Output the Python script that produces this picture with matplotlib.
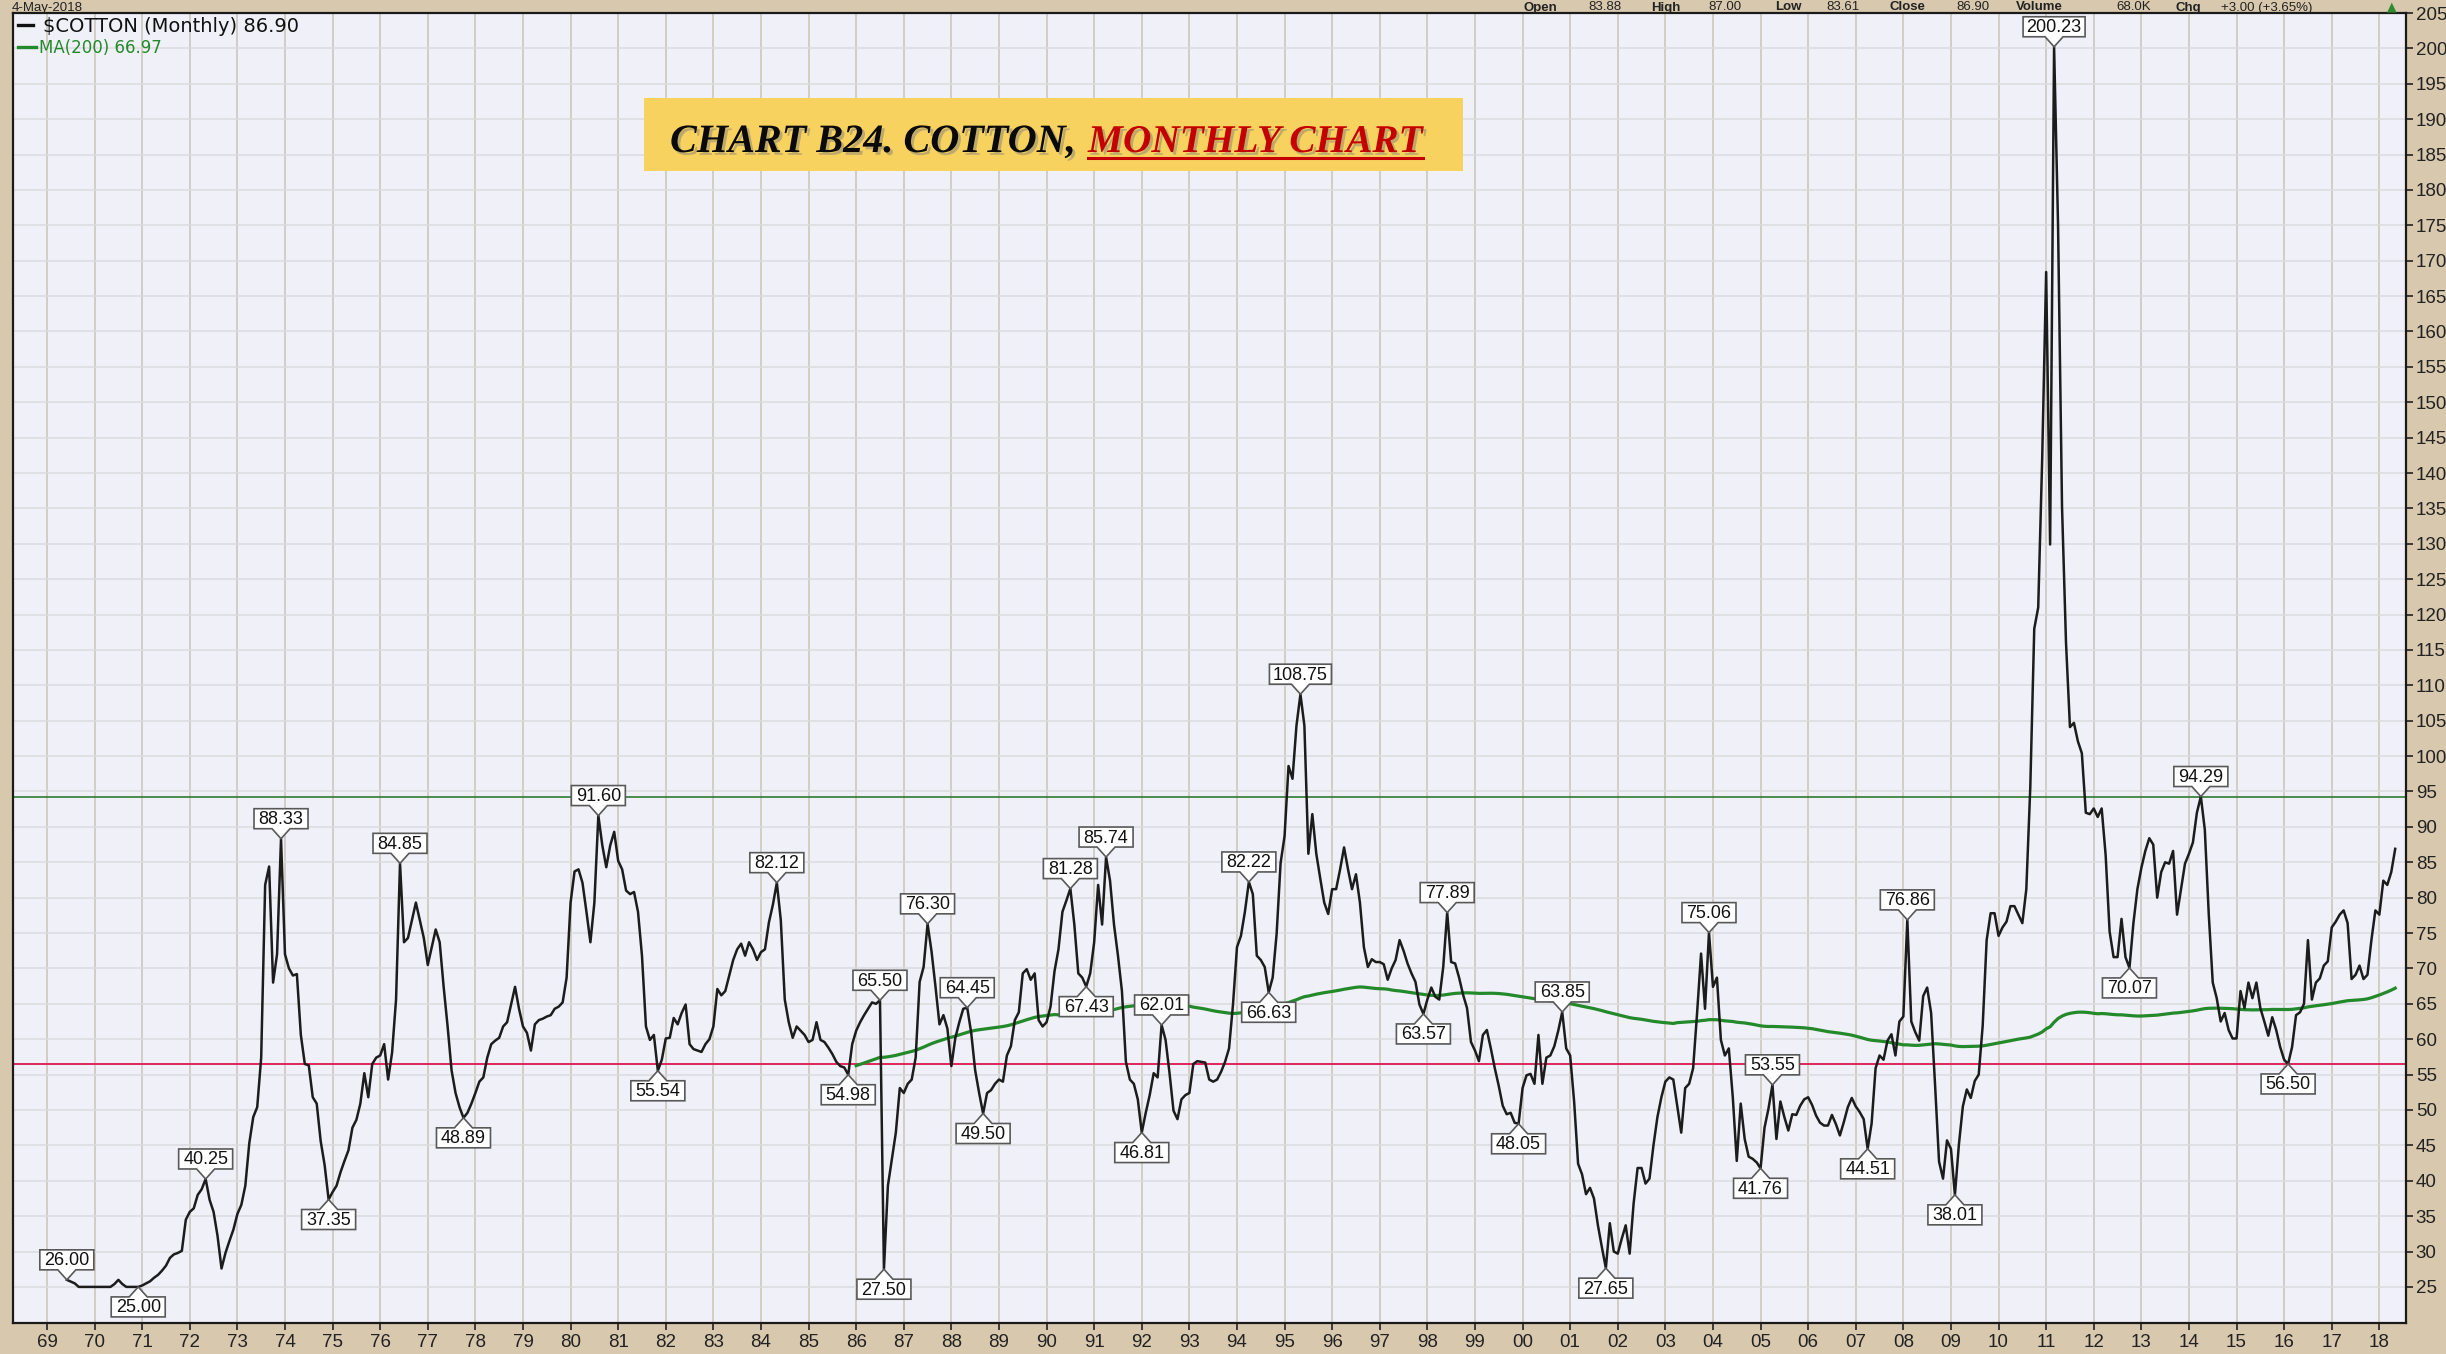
import numpy as np
import pandas as pd
import matplotlib
matplotlib.use("Agg")
import matplotlib.pyplot as plt
import matplotlib.patheffects as pe
from matplotlib import font_manager
from matplotlib.patches import Polygon, Rectangle
from matplotlib.lines import Line2D
from matplotlib.transforms import ScaledTranslation

# monthly closes of $COTTON, first bar June 1969
first_bar = "1969-06-01"

closes_1969_1979 = [
    26.00, 25.75, 25.50, 25.00, 25.00, 25.00, 25.00,
    25.00, 25.00, 25.00, 25.00, 25.00, 25.40, 26.00, 25.40, 25.00, 25.00, 25.00, 25.00,
    25.20, 25.50, 25.80, 26.30, 26.70, 27.30, 28.00, 29.10, 29.60, 29.80, 30.10, 34.50,
    35.60, 36.10, 38.00, 38.80, 40.25, 37.30, 35.60, 32.20, 27.60, 29.80, 31.50, 33.10,
    35.30, 36.60, 39.30, 45.30, 49.00, 50.40, 57.40, 81.80, 84.40, 68.00, 72.00, 88.33,
    72.00, 70.00, 69.00, 69.20, 60.60, 56.50, 56.30, 51.80, 50.90, 45.60, 42.20, 37.35,
    38.40, 39.30, 41.20, 42.80, 44.30, 47.50, 48.60, 50.90, 55.20, 51.80, 56.50, 57.40,
    57.70, 59.30, 54.30, 58.10, 65.60, 84.85, 73.70, 74.30, 76.80, 79.30, 76.80, 74.30,
    70.50, 73.00, 75.50, 73.70, 67.40, 61.80, 55.60, 52.40, 50.40, 48.89, 49.60, 50.90,
    52.40, 54.00, 54.60, 57.40, 59.30, 59.80, 60.20, 61.80, 62.40, 64.90, 67.40, 64.30,
    61.80, 60.90, 58.40, 62.10, 62.70, 62.90, 63.20, 63.40, 64.30, 64.60, 65.20, 68.70,
]
closes_1980_1989 = [
    79.30, 83.70, 84.00, 82.10, 78.00, 73.70, 79.30, 91.60, 87.40, 84.30, 87.40, 89.30,
    85.20, 84.00, 81.00, 80.50, 80.80, 78.00, 71.80, 61.80, 59.90, 60.60, 55.54, 57.10,
    60.10, 60.20, 63.00, 62.10, 63.70, 64.90, 59.30, 58.60, 58.40, 58.20, 59.30, 60.00,
    61.80, 67.10, 66.20, 66.80, 69.00, 71.20, 72.70, 73.50, 71.80, 73.70, 72.70, 71.20,
    72.30, 72.70, 76.50, 79.00, 82.12, 76.80, 65.60, 62.40, 60.20, 61.80, 61.20, 60.60,
    59.60, 59.90, 62.40, 59.90, 59.60, 58.80, 57.90, 56.80, 56.20, 56.00, 54.98, 59.30,
    61.20, 62.40, 63.40, 64.30, 65.20, 65.00, 65.50, 27.50, 39.30, 43.10, 46.80, 53.10,
    52.40, 53.70, 54.30, 57.40, 68.10, 70.20, 76.30, 72.40, 67.40, 62.10, 63.40, 61.50,
    56.20, 60.20, 62.40, 64.30, 64.45, 60.90, 55.60, 52.40, 49.50, 52.40, 52.80, 53.70,
    54.30, 54.00, 57.70, 59.00, 62.70, 63.80, 69.30, 69.90, 68.40, 69.30, 62.70, 61.80,
]
closes_1990_1999 = [
    62.40, 64.60, 69.60, 72.70, 78.00, 79.60, 81.28, 76.20, 69.30, 68.70, 67.43, 69.30,
    73.70, 81.80, 76.20, 85.74, 82.40, 76.20, 71.80, 66.80, 56.80, 54.30, 53.70, 51.50,
    46.81, 49.60, 52.10, 55.20, 54.60, 62.01, 59.90, 55.20, 49.90, 48.70, 51.50, 52.10,
    52.40, 56.50, 56.90, 56.80, 56.70, 54.30, 54.00, 54.30, 55.40, 56.80, 58.70, 64.90,
    73.00, 74.60, 78.00, 82.22, 80.50, 71.80, 71.20, 70.20, 66.63, 68.70, 74.90, 84.90,
    88.70, 98.60, 96.80, 104.30, 108.75, 104.30, 86.20, 91.80, 86.20, 82.70, 79.30, 77.70,
    81.20, 81.20, 84.00, 87.10, 84.00, 81.20, 83.30, 79.30, 73.00, 70.20, 71.30, 70.90,
    70.90, 70.60, 68.40, 70.00, 71.20, 74.00, 72.50, 70.70, 69.30, 68.10, 64.90, 63.57,
    65.60, 67.30, 66.00, 65.60, 70.20, 77.89, 70.90, 70.70, 68.70, 66.30, 64.40, 59.60,
    58.40, 56.90, 60.60, 61.30, 58.70, 55.90, 53.40, 50.60, 49.40, 49.60, 48.20, 48.05,
]
closes_2000_2009 = [
    53.10, 54.90, 55.10, 53.70, 60.60, 53.70, 57.40, 57.70, 59.00, 61.20, 63.85, 58.70,
    57.70, 51.20, 42.40, 40.90, 38.10, 39.00, 37.50, 33.70, 30.60, 27.65, 34.00, 30.00,
    29.70, 31.80, 33.70, 29.70, 36.80, 41.80, 41.80, 39.60, 40.30, 45.00, 49.00, 51.80,
    54.00, 54.60, 54.30, 50.60, 46.80, 53.10, 53.70, 55.90, 63.70, 72.10, 64.30, 75.06,
    67.40, 68.70, 59.90, 57.70, 58.70, 51.80, 42.80, 50.90, 45.90, 43.40, 43.10, 42.60,
    41.76, 47.50, 50.20, 53.55, 45.90, 51.20, 49.00, 47.10, 49.40, 49.30, 50.60, 51.50,
    51.80, 50.70, 49.20, 48.20, 47.80, 47.80, 49.30, 48.00, 46.40, 48.30, 50.40, 51.70,
    50.50, 49.70, 48.70, 44.51, 48.10, 55.90, 57.70, 57.10, 59.80, 60.70, 57.70, 62.50,
    63.20, 76.86, 62.50, 61.00, 59.80, 66.10, 67.30, 63.70, 53.50, 42.70, 40.30, 45.70,
    44.50, 38.01, 45.10, 50.50, 52.90, 51.70, 54.10, 55.00, 61.90, 74.00, 77.80, 77.80,
]
closes_2010_2018 = [
    74.60, 75.80, 76.60, 78.80, 78.80, 77.60, 76.40, 81.20, 95.60, 118.00, 121.00, 142.00,
    168.40, 129.90, 200.23, 175.00, 135.30, 116.10, 104.10, 104.70, 102.10, 100.40, 92.00, 91.80,
    92.60, 91.40, 92.60, 86.00, 75.20, 71.60, 71.60, 77.00, 71.60, 70.07, 76.40, 81.20,
    84.20, 86.60, 88.40, 87.50, 80.00, 83.60, 85.00, 84.80, 86.60, 77.60, 81.20, 84.80,
    86.20, 87.80, 92.00, 94.29, 89.60, 77.60, 68.00, 65.80, 62.50, 63.70, 61.30, 60.10,
    60.10, 66.80, 64.40, 68.00, 65.80, 68.00, 64.40, 62.50, 60.50, 63.10, 61.30, 58.90,
    57.10, 56.50, 58.90, 63.40, 63.80, 65.00, 74.00, 65.60, 68.00, 68.60, 70.40, 71.00,
    75.80, 76.60, 77.60, 78.20, 76.40, 68.50, 69.10, 70.40, 68.50, 69.10, 74.00, 78.20,
    77.60, 82.40, 81.80, 83.60, 86.90,
]

# swing highs / lows that carry a value flag
flag_months = [
    "1969-06", "1970-12", "1972-05", "1973-12", "1974-12", "1976-06", "1977-10",
    "1980-08", "1981-11", "1984-05", "1985-11", "1986-07", "1986-08", "1987-07",
    "1988-05", "1988-09", "1990-07", "1990-11", "1991-04", "1992-01", "1992-06",
    "1994-04", "1994-09", "1995-05", "1997-12", "1998-06", "1999-12", "2000-11",
    "2001-10", "2003-12", "2005-01", "2005-04", "2007-04", "2008-02", "2009-02",
    "2011-03", "2012-10", "2014-04", "2016-02",
]
flag_above = [
    True, False, True, True, False, True, False,
    True, False, True, False, True, False, True,
    True, False, True, False, True, False, True,
    True, False, True, False, True, False, True,
    False, True, False, True, False, True, False,
    True, False, True, False,
]

resistance = 94.29
support = 56.50
ma_window = 200
legend_last = "86.90"
legend_ma = "66.97"

header_labels = ["Open", "83.88", "High", "87.00", "Low", "83.61", "Close", "86.90",
                 "Volume", "68.0K", "Chg", "+3.00 (+3.65%)"]
header_bold = [True, False, True, False, True, False, True, False, True, False, True, False]
header_x = [1524, 1588, 1651, 1708, 1775, 1826, 1889, 1956, 2016, 2116, 2176, 2221]

# ---------------------------------------------------------------------------
closes = pd.Series(closes_1969_1979 + closes_1980_1989 + closes_1990_1999
                   + closes_2000_2009 + closes_2010_2018,
                   index=pd.date_range(first_bar, periods=588, freq="MS"))
t = closes.index.year + (closes.index.month - 1) / 12.0
ma = closes.rolling(ma_window).mean()

installed = {f.name for f in font_manager.fontManager.ttflist}


def pick(*names):
    for n in names:
        if n in installed:
            return n
    return "DejaVu Sans"


sans = pick("Liberation Sans", "Arimo", "DejaVu Sans")
title_face = pick("DejaVu Serif Condensed", "Liberation Serif", "DejaVu Serif")

W, H = 2446, 1354
fig = plt.figure(figsize=(W / 100, H / 100), dpi=100, facecolor="#D8C8AD")
ax = fig.add_axes([13 / W, (H - 1323) / H, (2406 - 13) / W, (1323 - 13) / H])
ax.set_facecolor("#F0F0F8")

ax.plot(t, closes.values, color="#1C1C1C", lw=1.8, zorder=4)
ax.plot(t, ma.values, color="#24892A", lw=2.3, zorder=3)
ax.axhline(resistance, color="#2E7B32", lw=1.2, zorder=2)
ax.axhline(support, color="#E0245A", lw=1.4, zorder=2)

years = np.arange(1969, 2019)
ax.set_xticks(years)
ax.set_xticklabels([f"{y % 100:02d}" for y in years])
ax.set_yticks(np.arange(25, 206, 5))
ax.yaxis.tick_right()
ax.tick_params(axis="both", direction="out", length=5, width=1.2, color="#222222",
               labelsize=13.5, labelcolor="#222222")
ax.tick_params(axis="x", pad=3)
ax.tick_params(axis="y", pad=2)
for lab in ax.get_xticklabels() + ax.get_yticklabels():
    lab.set_fontfamily(sans)
ax.grid(axis="x", color="#D2CEC4", lw=1.4)
ax.grid(axis="y", color="#DCDCDF", lw=1.1)
ax.set_axisbelow(True)
for sp in ax.spines.values():
    sp.set_color("#1A1A1A")
    sp.set_linewidth(1.6)


def flag(x, y, text, above):
    s = 1 if above else -1
    w = 54 if len(text) <= 5 else 62
    tip, half, bh = 10, 9, 20
    pts = [(0, 0), (half, s * tip), (w / 2, s * tip), (w / 2, s * (tip + bh)),
           (-w / 2, s * (tip + bh)), (-w / 2, s * tip), (-half, s * tip)]
    tr = ScaledTranslation(x, y, ax.transData)
    ax.add_patch(Polygon(pts, closed=True, transform=tr, fc="white", ec="#595959",
                         lw=1.2, zorder=6, clip_on=False))
    ax.text(0, s * (tip + bh / 2) - 1, text, transform=tr, ha="center", va="center",
            fontsize=13, family=sans, color="#111111", zorder=7, clip_on=False)


for m, up in zip(flag_months, flag_above):
    stamp = pd.Timestamp(m + "-01")
    v = closes[stamp]
    flag(stamp.year + (stamp.month - 1) / 12.0, v, f"{v:.2f}", up)

ax.set_xlim(1968.286, 2018.56)
ax.set_ylim(19.9, 205)

# legend lines in the top-left corner
fig.add_artist(Line2D([18 / W, 33 / W], [1 - 25 / H] * 2, color="#111111", lw=2.4))
fig.text(43 / W, 1 - 26 / H, f"$COTTON (Monthly) {legend_last}", fontsize=14,
         family="DejaVu Sans", color="#111111", va="center", ha="left")
fig.add_artist(Line2D([18 / W, 36 / W], [1 - 47 / H] * 2, color="#24892A", lw=2.4))
fig.text(39 / W, 1 - 48 / H, f"MA({ma_window}) {legend_ma}", fontsize=12,
         family="DejaVu Sans", color="#24892A", va="center", ha="left")

# header strip above the frame
r = fig.canvas.get_renderer()
head_base = 1 - 10.5 / H
fig.text(12 / W, head_base, "4-May-2018", fontsize=9.5, family=sans,
         color="#222222", va="baseline", ha="left")
for s, b, x in zip(header_labels, header_bold, header_x):
    fig.text(x / W, head_base, s, fontsize=9.5, family=sans,
             fontweight="bold" if b else "normal", color="#222222",
             va="baseline", ha="left")
fig.text(2387 / W, head_base, "\u25b2", fontsize=9, family="DejaVu Sans",
         color="#2E8B2E", va="baseline", ha="left")

# chart title banner
fig.add_artist(Rectangle((644 / W, 1 - 171 / H), (1463 - 644) / W, 73 / H,
                         transform=fig.transFigure, fc="#F8D25E", ec="none", zorder=1))
shadow = [pe.withSimplePatchShadow(offset=(2, -2), shadow_rgbFace="#777777", alpha=0.45)]


def fit_text(x_px, base_px, s, width_px, color):
    txt = fig.text(x_px / W, 1 - base_px / H, s, fontsize=30, color=color,
                   family=title_face, fontweight="bold", fontstyle="italic",
                   va="baseline", ha="left", zorder=3, path_effects=shadow)
    bb = txt.get_window_extent(renderer=r)
    txt.set_fontsize(min(30 * width_px / bb.width, 34))
    return txt


fit_text(670, 152, "CHART B24. COTTON,", 405, "#0A0A0A")
red = fit_text(1088, 152, "MONTHLY CHART", 334, "#C40000")
rb = red.get_window_extent(renderer=r)
fig.add_artist(Line2D([rb.x0 / W, rb.x1 / W], [1 - 158 / H] * 2, color="#C40000",
                      lw=2.2, zorder=3))

fig.savefig("out.png", dpi=100, facecolor=fig.get_facecolor())
